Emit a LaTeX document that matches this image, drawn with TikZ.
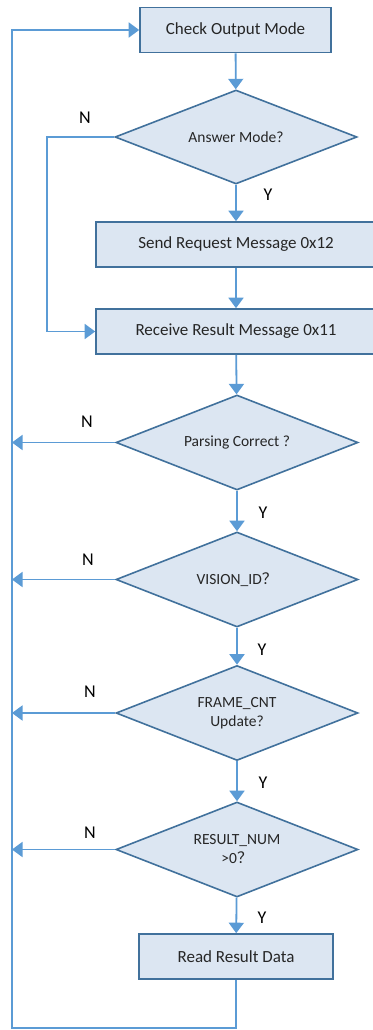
\documentclass[tikz,border=0pt]{standalone}
\usepackage{fontspec}
\setmainfont{Carlito}
\newfontfamily\cjk{Noto Sans CJK SC}
\usetikzlibrary{shapes.geometric,arrows.meta}

\definecolor{boxfill}{HTML}{DCE6F2}
\definecolor{boxline}{HTML}{41719C}
\definecolor{flowline}{HTML}{5B9BD5}

\tikzset{
    stepbox/.style={draw=boxline, fill=boxfill, line width=1.6pt, minimum height=45pt,
        font=\fontsize{17}{19}\selectfont, text=black!85},
    choice/.style={diamond, aspect=2.6, draw=boxline, fill=boxfill, line width=1.6pt, inner sep=0pt,
        minimum width=242pt, minimum height=94pt, align=center,
        font=\fontsize{15.5}{19}\selectfont, text=black!85},
    flow/.style={draw=flowline, line width=1.8pt, -{Triangle[width=15pt,length=10.5pt]}},
    yn/.style={font=\fontsize{18}{20}\selectfont}
}

\begin{document}
\begin{tikzpicture}[x=1pt,y=-1pt]
            \useasboundingbox (0,0) rectangle (372,1030);

            % boxes
            \node[stepbox, minimum width=191pt] (check) at (235.5,30) {Check Output Mode};
            \node[stepbox, minimum width=280pt] (send) at (236,244.5) {Send Request Message 0x12};
            \node[stepbox, minimum width=280pt] (receive) at (236,331.5) {Receive Result Message 0x11};
            \node[stepbox, minimum width=194pt] (read) at (236,956.5) {Read Result Data};

            % diamonds
            \node[choice] (answer) at (236,137) {Answer Mode?};
            \node[choice, minimum height=95pt] (parsing) at (237,442.5) {Parsing Correct ?};
            \node[choice, minimum height=95pt] (vision) at (237,579.5) {VISION\_ID{\cjk ？}};
            \node[choice, minimum height=95pt] (frame) at (237,713) {FRAME\_CNT\\Update?};
            \node[choice, minimum height=95pt] (result) at (237,849.5) {RESULT\_NUM\\>0{\cjk ？}};

            % loop line on the left
            \coordinate (loop) at (12,0);
            \coordinate (loopbot) at (12,1028);
            \coordinate (skip) at (47,0);

            % main flow
            \draw[flow] (check) -- (answer);
            \draw[flow] (answer) -- (send);
            \draw[flow] (send) -- (receive);
            \draw[flow] (receive) -- (parsing);
            \draw[flow] (parsing) -- (vision);
            \draw[flow] (vision) -- (frame);
            \draw[flow] (frame) -- (result);
            \draw[flow] (result) -- (read);

            % N branches
            \draw[flow] (answer.west) -- (answer.west -| skip) |- (receive.west);
            \draw[flow] (parsing.west) -- (parsing.west -| loop);
            \draw[flow] (vision.west) -- (vision.west -| loop);
            \draw[flow] (frame.west) -- (frame.west -| loop);
            \draw[flow] (result.west) -- (result.west -| loop);

            % back to the top
            \draw[flow] (read.south) |- (loopbot) |- (check.west);

            % Y labels
            \node[yn] (y1) at (268,195) {Y};
            \node[yn] (y2) at (263,513) {Y};
            \node[yn] (y3) at (262,650) {Y};
            \node[yn] (y4) at (263,783) {Y};
            \node[yn] (y5) at (262,918) {Y};

            % N labels
            \node[yn] (n1) at (85,118) {N};
            \node[yn] (n2) at (87,422) {N};
            \node[yn] (n3) at (88,560) {N};
            \node[yn] (n4) at (90,692) {N};
            \node[yn] (n5) at (90,833) {N};
\end{tikzpicture}
\end{document}
